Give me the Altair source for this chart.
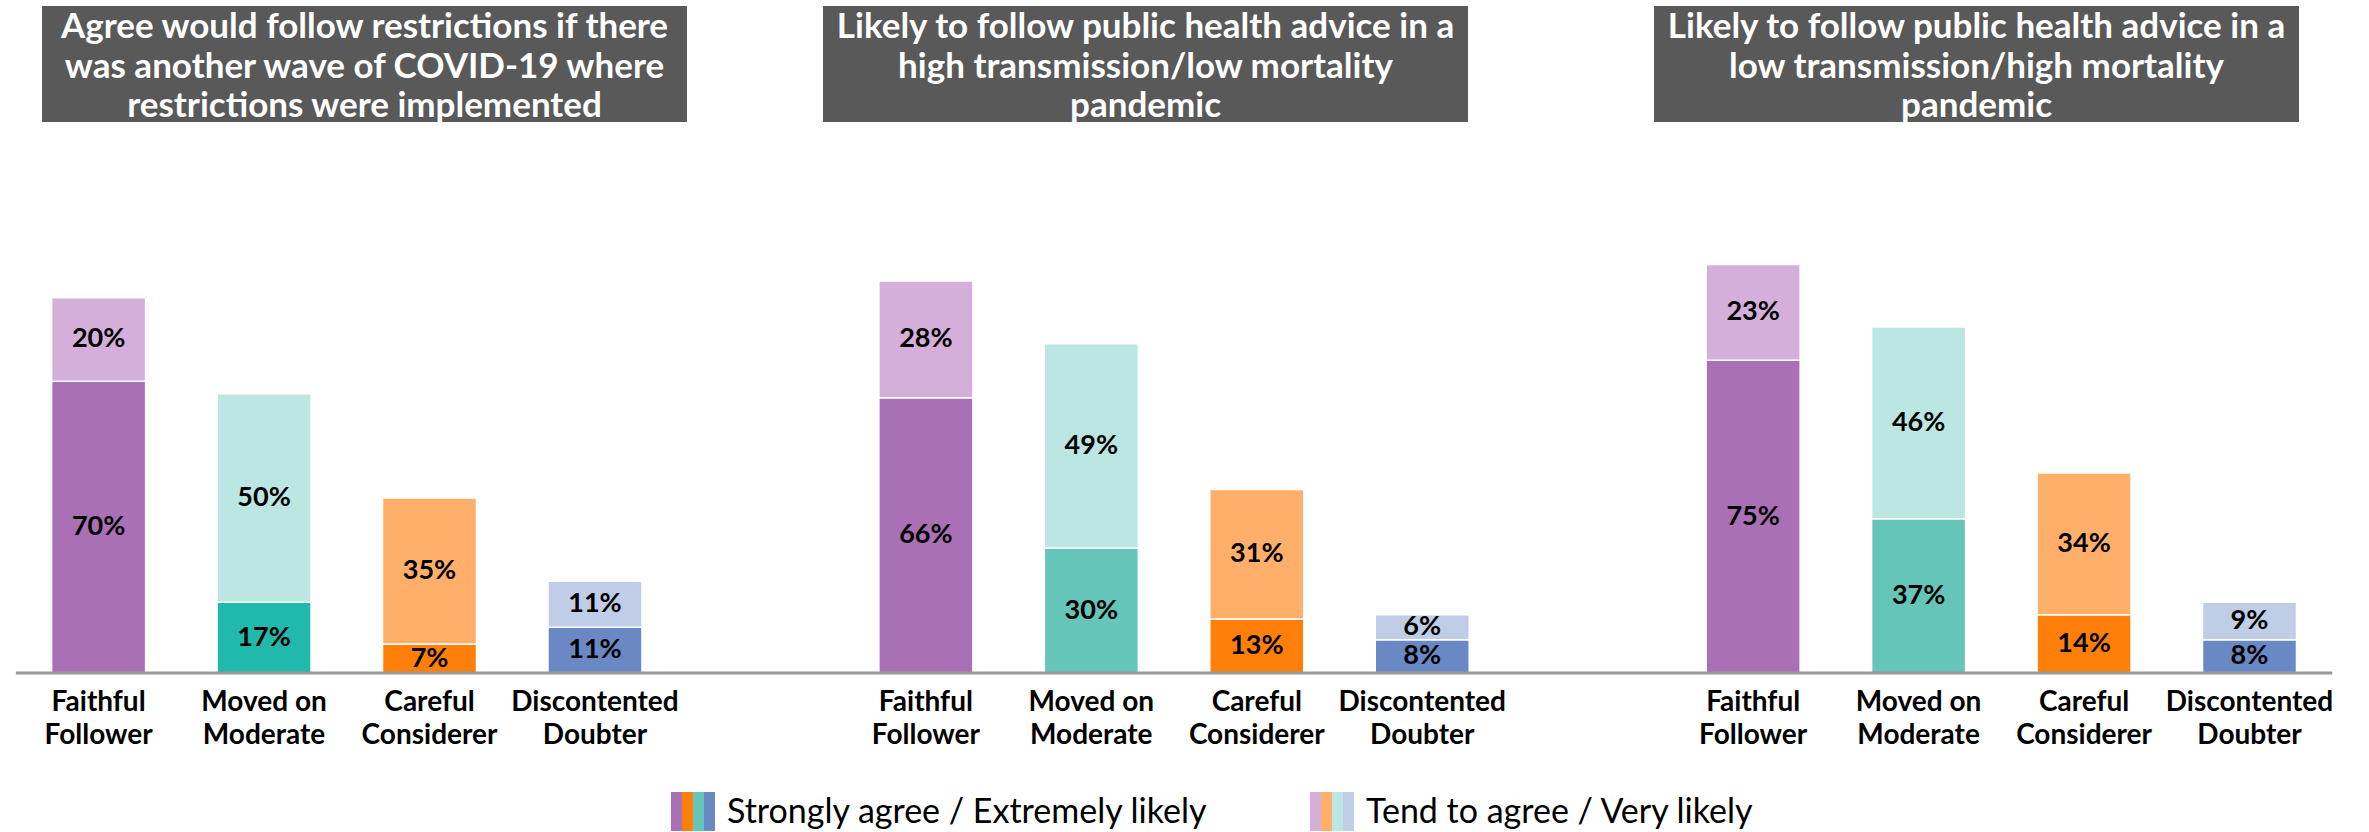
import altair as alt
import pandas as pd

# ---------------- data ----------------
panel_titles = [
    "Agree would follow restrictions if there\nwas another wave of COVID-19 where\nrestrictions were implemented",
    "Likely to follow public health advice in a\nhigh transmission/low mortality\npandemic",
    "Likely to follow public health advice in a\nlow transmission/high mortality\npandemic",
]
segments = ["Faithful\nFollower", "Moved on\nModerate", "Careful\nConsiderer", "Discontented\nDoubter"]
strongly = [
    [70, 17, 7, 11],
    [66, 30, 13, 8],
    [75, 37, 14, 8],
]
tend = [
    [20, 50, 35, 11],
    [28, 49, 31, 6],
    [23, 46, 34, 9],
]
legend_labels = ["Strongly agree / Extremely likely", "Tend to agree / Very likely"]

# ---------------- styles ----------------
strong_colors = ["#A970B5", "#66C5B9", "#FF7F0A", "#6A88C3"]
strong_colors_p1 = ["#A970B5", "#20B9AB", "#FF7F0A", "#6A88C3"]
tend_colors = ["#D4AFD9", "#BCE6E1", "#FFAF69", "#BFCDE6"]
FONT = "Lato"
W, H = 2369, 832

# layout: slot index per bar (one empty slot between panels)
SLOT_PER_PANEL = 5
x_scale = alt.Scale(domain=[-0.5658, 13.692], nice=False, zero=False)
y_scale = alt.Scale(domain=[-38.1, 161.4], nice=False, zero=False)

bar_rows, lab_rows, cat_rows = [], [], []
for p in range(3):
    for s in range(4):
        slot = p * SLOT_PER_PANEL + s
        sv, tv = strongly[p][s], tend[p][s]
        sc = (strong_colors_p1 if p == 0 else strong_colors)[s]
        bar_rows.append(dict(slot=slot, y0=0, y1=sv, color=sc))
        bar_rows.append(dict(slot=slot, y0=sv, y1=sv + tv, color=tend_colors[s]))
        lab_rows.append(dict(slot=slot, mid=sv / 2, text=f"{sv}%"))
        lab_rows.append(dict(slot=slot, mid=sv + tv / 2, text=f"{tv}%"))
        cat_rows.append(dict(slot=slot, text=segments[s]))

bars_df = pd.DataFrame(bar_rows)
labs_df = pd.DataFrame(lab_rows)
cats_df = pd.DataFrame(cat_rows)

X = alt.X("slot:Q", scale=x_scale, axis=None)

bars = alt.Chart(bars_df).mark_bar(size=94, stroke="white", strokeWidth=1.5).encode(
    x=X,
    y=alt.Y("y0:Q", scale=y_scale, axis=None),
    y2="y1:Q",
    color=alt.Color("color:N", scale=None),
)

values = alt.Chart(labs_df).mark_text(
    font=FONT, fontSize=27, fontWeight="bold", color="#000000"
).encode(x=X, y=alt.Y("mid:Q", scale=y_scale, axis=None), text="text:N")

baseline = alt.Chart(pd.DataFrame({"a": [-0.5], "b": [13.5], "v": [0]})).mark_rule(
    color="#9A9A9A", strokeWidth=3
).encode(x=alt.X("a:Q", scale=x_scale, axis=None), x2="b:Q",
         y=alt.Y("v:Q", scale=y_scale, axis=None))

cats = alt.Chart(cats_df).mark_text(
    font=FONT, fontSize=28, fontWeight="bold", color="#000000",
    lineBreak="\n", lineHeight=33, baseline="middle"
).encode(x=X, y=alt.value(703), text="text:N")

# title boxes (pixel layout)
box_left = [42, 823, 1654]
box_w = 645
title_df = pd.DataFrame({
    "x0": box_left,
    "x1": [b + box_w for b in box_left],
    "cx": [b + box_w / 2 for b in box_left],
    "text": panel_titles,
})
title_boxes = alt.Chart(title_df).mark_rect(color="#595959").encode(
    x=alt.X("x0:Q", scale=None), x2="x1:Q", y=alt.value(6), y2=alt.value(122)
)
title_text = alt.Chart(title_df).mark_text(
    font=FONT, fontSize=35, fontWeight="bold", color="white",
    lineBreak="\n", lineHeight=39.5, baseline="middle"
).encode(x=alt.X("cx:Q", scale=None), y=alt.value(27), text="text:N")

# legend (pixel layout)
leg_x = [671, 1310]
stripe_w = 11
stripe_rows = []
for i, cols in enumerate([strong_colors, tend_colors]):
    order = [cols[0], cols[2], cols[1], cols[3]]
    for k, c in enumerate(order):
        stripe_rows.append(dict(x0=leg_x[i] + k * stripe_w, x1=leg_x[i] + (k + 1) * stripe_w, color=c))
stripes = alt.Chart(pd.DataFrame(stripe_rows)).mark_rect().encode(
    x=alt.X("x0:Q", scale=None), x2="x1:Q", y=alt.value(792), y2=alt.value(831),
    color=alt.Color("color:N", scale=None),
)
leg_text_df = pd.DataFrame({"x": [x + 4 * stripe_w + 12 for x in leg_x], "text": legend_labels})
leg_text = alt.Chart(leg_text_df).mark_text(
    font=FONT, fontSize=34, color="#000000", align="left", baseline="middle"
).encode(x=alt.X("x:Q", scale=None), y=alt.value(813), text="text:N")

chart = alt.layer(
    bars, values, baseline, cats, title_boxes, title_text, stripes, leg_text
).properties(
    width=W, height=H, autosize=alt.AutoSizeParams(type="none"), padding=0,
    background="white"
).configure_view(strokeWidth=0)

chart.save("out.html", embed_options={"renderer": "svg", "actions": False})
